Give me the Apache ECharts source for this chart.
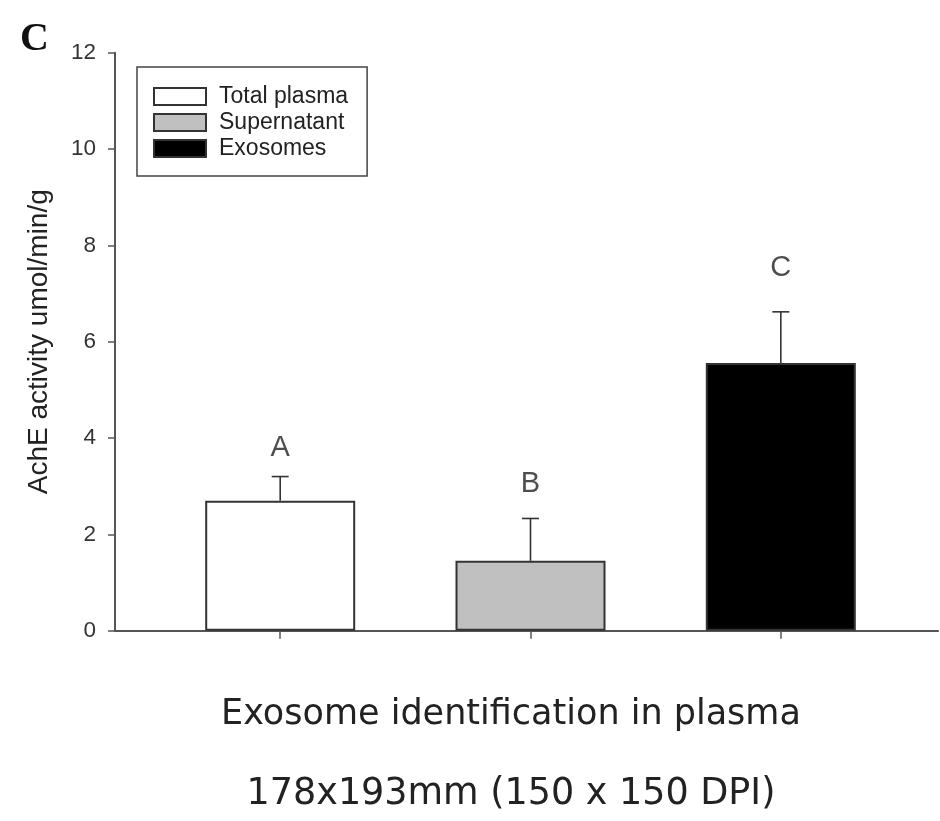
<!DOCTYPE html>
<html>
<head>
<meta charset="utf-8">
<script src="https://cdn.jsdelivr.net/npm/echarts@6/dist/echarts.min.js"></script>
<style>html,body{margin:0;padding:0;background:#fff;}#c{width:940px;height:821px;}</style>
</head>
<body>
<div id="c"></div>
<script>
var categories = ['Total plasma', 'Supernatant', 'Exosomes'];
var means = [2.70, 1.45, 5.56];
var sem = [0.50, 0.88, 1.06];
var letters = ['A', 'B', 'C'];
var letterY = [3.79, 3.04, 7.53];
var fills = ['#ffffff', '#c0c0c0', '#000000'];
var yTicks = [0, 2, 4, 6, 8, 10, 12];
var yTitle = 'AchE activity umol/min/g';
var xTitle = 'Exosome identification in plasma';
var caption = '178x193mm (150 x 150 DPI)';

var chart = echarts.init(document.getElementById('c'), null, {renderer: 'canvas'});
var positions = categories.map(function (c, i) { return i + 1; });

var barSeries = categories.map(function (name, i) {
  return {
    name: name,
    type: 'bar',
    barWidth: 150,
    barGap: '-100%',
    data: [[positions[i], means[i]]],
    itemStyle: {color: fills[i], borderColor: '#333', borderWidth: 2},
    z: 2
  };
});

var errSeries = {
  type: 'custom',
  z: 3,
  data: categories.map(function (c, i) { return [positions[i], means[i], means[i] + sem[i]]; }),
  renderItem: function (params, api) {
    var p0 = api.coord([api.value(0), api.value(1)]);
    var p1 = api.coord([api.value(0), api.value(2)]);
    var style = {stroke: '#333', lineWidth: 1.6};
    return {
      type: 'group',
      children: [
        {type: 'line', shape: {x1: p0[0], y1: p0[1], x2: p1[0], y2: p1[1]}, style: style},
        {type: 'line', shape: {x1: p1[0] - 8.5, y1: p1[1], x2: p1[0] + 8.5, y2: p1[1]}, style: style}
      ]
    };
  }
};

var letterSeries = {
  type: 'scatter',
  symbolSize: 0,
  z: 4,
  data: categories.map(function (c, i) { return {value: [positions[i], letterY[i]], name: letters[i]}; }),
  label: {
    show: true, position: 'inside', formatter: function (p) { return p.name; },
    fontFamily: 'Liberation Sans', fontSize: 29, color: '#222'
  },
  silent: true
};

chart.setOption({
  animation: false,
  backgroundColor: '#fff',
  title: {
    text: 'C', left: 15, top: 15,
    textStyle: {fontFamily: 'Liberation Serif', fontWeight: 'bold', fontSize: 40, color: '#111'}
  },
  legend: {
    orient: 'vertical', left: 137, top: 67,
    padding: [18, 19, 16, 16],
    itemWidth: 52, itemHeight: 17, itemGap: 3,
    icon: 'rect',
    borderColor: '#444', borderWidth: 1.5,
    data: categories,
    textStyle: {fontFamily: 'Liberation Sans', fontSize: 23, color: '#222', padding: [0, 0, 0, 8]}
  },
  grid: {left: 115, right: 2, top: 52.7, bottom: 190.3, containLabel: false},
  xAxis: {
    type: 'value', min: 0.34, max: 3.628,
    axisLine: {show: true, onZero: false, lineStyle: {color: '#555', width: 2}},
    axisTick: {show: true, customValues: positions, length: 8, lineStyle: {color: '#555', width: 1.5}},
    axisLabel: {show: false},
    splitLine: {show: false}
  },
  yAxis: {
    type: 'value', min: 0, max: 12, interval: 2,
    name: yTitle, nameLocation: 'middle', nameGap: 62, nameRotate: 90,
    nameTextStyle: {fontFamily: 'Liberation Sans', fontSize: 28, color: '#222'},
    axisLine: {show: true, lineStyle: {color: '#555', width: 2}},
    axisTick: {show: true, length: 7, lineStyle: {color: '#555', width: 1.5}},
    axisLabel: {
      margin: 19, fontFamily: 'Liberation Sans', fontSize: 22.5, color: '#333',
      customValues: yTicks
    },
    splitLine: {show: false}
  },
  graphic: [
    {type: 'text', x: 511, y: 715, style: {text: xTitle, x: 0, y: 0, align: 'center', verticalAlign: 'middle', font: '35px "DejaVu Sans"', fill: '#222'}},
    {type: 'text', x: 511, y: 795, style: {text: caption, x: 0, y: 0, align: 'center', verticalAlign: 'middle', font: '36.5px "DejaVu Sans"', fill: '#222'}}
  ],
  series: barSeries.concat([errSeries, letterSeries])
});
</script>
</body>
</html>
